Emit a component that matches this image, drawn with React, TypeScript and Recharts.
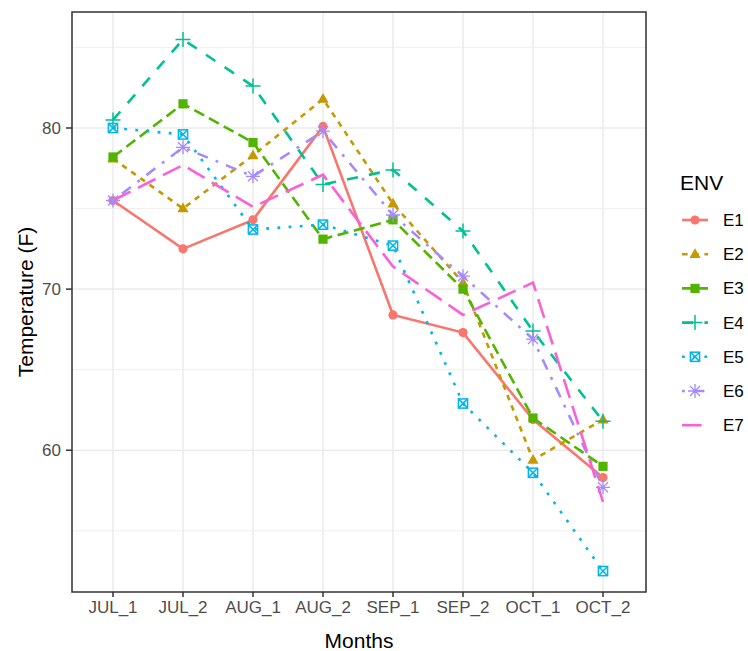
import React from "react";
import { LineChart, Line, XAxis, YAxis, CartesianGrid, usePlotArea } from "recharts";

const months = ["JUL_1", "JUL_2", "AUG_1", "AUG_2", "SEP_1", "SEP_2", "OCT_1", "OCT_2"];

const e1 = [75.5, 72.5, 74.3, 80.1, 68.4, 67.3, 61.9, 58.3];
const e2 = [78.1, 75.0, 78.3, 81.8, 75.3, 70.4, 59.4, 61.9];
const e3 = [78.2, 81.5, 79.1, 73.1, 74.3, 70.0, 62.0, 59.0];
const e4 = [80.5, 85.5, 82.6, 76.5, 77.4, 73.6, 67.4, 61.8];
const e5 = [80.0, 79.6, 73.7, 74.0, 72.7, 62.9, 58.6, 52.5];
const e6 = [75.5, 78.8, 77.0, 79.8, 74.6, 70.8, 66.9, 57.7];
const e7 = [75.5, 77.7, 75.1, 77.1, 71.4, 68.4, 70.4, 56.8];

const majorTicks = [60, 70, 80];
const minorTicks = [55, 65, 75, 85];

const envValues: Record<string, number[]> = { E1: e1, E2: e2, E3: e3, E4: e4, E5: e5, E6: e6, E7: e7 };

const data = months.map((month, i) => {
	const row: Record<string, string | number> = { month };
	Object.keys(envValues).forEach((k) => {
		row[k] = envValues[k][i];
	});
	return row;
});

// ggplot-like hue palette, linetypes and point shapes
const U = 2.8;
const series = [
	{ key: "E1", color: "#F8766D", dash: undefined, shape: "circle" },
	{ key: "E2", color: "#C49A00", dash: `${2 * U} ${2 * U}`, shape: "triangle" },
	{ key: "E3", color: "#53B400", dash: `${4 * U} ${2 * U}`, shape: "square" },
	{ key: "E4", color: "#00C094", dash: `${4 * U} ${4 * U}`, shape: "plus" },
	{ key: "E5", color: "#00B6EB", dash: `${1 * U} ${3 * U}`, shape: "boxX" },
	{ key: "E6", color: "#A58AFF", dash: `${1 * U} ${3 * U} ${4 * U} ${3 * U}`, shape: "asterisk" },
	{ key: "E7", color: "#FB61D7", dash: `${7 * U} ${3 * U}`, shape: "none" },
];

const FONT = "'Liberation Sans', Arial, sans-serif";

function Marker({ shape, cx, cy, color }: { shape: string; cx: number; cy: number; color: string }) {
	if (cx == null || cy == null) return <g />;
	switch (shape) {
		case "circle":
			return <circle cx={cx} cy={cy} r={4.6} fill={color} />;
		case "triangle":
			return <polygon points={`${cx},${cy - 6} ${cx + 5.6},${cy + 3.8} ${cx - 5.6},${cy + 3.8}`} fill={color} />;
		case "square":
			return <rect x={cx - 4.6} y={cy - 4.6} width={9.2} height={9.2} fill={color} />;
		case "plus":
			return (
				<path d={`M${cx - 7.5},${cy}H${cx + 7.5}M${cx},${cy - 7.5}V${cy + 7.5}`} stroke={color} strokeWidth={1.5} fill="none" />
			);
		case "boxX":
			return (
				<g stroke={color} strokeWidth={1.5} fill="none">
					<rect x={cx - 4.6} y={cy - 4.6} width={9.2} height={9.2} />
					<path d={`M${cx - 4.6},${cy - 4.6}L${cx + 4.6},${cy + 4.6}M${cx + 4.6},${cy - 4.6}L${cx - 4.6},${cy + 4.6}`} />
				</g>
			);
		case "asterisk":
			return (
				<path
					d={`M${cx - 7},${cy}H${cx + 7}M${cx},${cy - 7}V${cy + 7}M${cx - 5},${cy - 5}L${cx + 5},${cy + 5}M${cx + 5},${cy - 5}L${cx - 5},${cy + 5}`}
					stroke={color}
					strokeWidth={1.3}
					fill="none"
				/>
			);
		default:
			return <g />;
	}
}

// panel border drawn around the whole plotting area
function PanelBorder() {
	const area = usePlotArea();
	if (!area) return null;
	return <rect x={area.x} y={area.y} width={area.width} height={area.height} fill="none" stroke="#333333" strokeWidth={1.5} />;
}

function EnvLegend() {
	return (
		<svg width={748} height={651} style={{ position: "absolute", left: 0, top: 0, pointerEvents: "none" }}>
			<text x={680} y={190} fontSize={21} fontFamily={FONT} fill="#000">
				ENV
			</text>
			{series.map((s, i) => {
				const y = 220 + i * 34.2;
				return (
					<g key={s.key}>
						<line x1={682} x2={708} y1={y} y2={y} stroke={s.color} strokeWidth={2.6} strokeDasharray={s.dash} />
						<Marker shape={s.shape} cx={695} cy={y} color={s.color} />
						<text x={723} y={y + 6} fontSize={17} fontFamily={FONT} fill="#000">
							{s.key}
						</text>
					</g>
				);
			})}
		</svg>
	);
}

export default function App() {
	return (
		<div style={{ position: "absolute", left: 0, top: 0, width: 748, height: 651, background: "#fff" }}>
			<LineChart
				width={748}
				height={651}
				data={data}
				margin={{ top: 12, right: 102, bottom: 0, left: 0 }}
				style={{ fontFamily: FONT }}
			>
				<CartesianGrid vertical={false} horizontalValues={minorTicks} stroke="#EBEBEB" strokeWidth={0.8} />
				<CartesianGrid horizontalValues={majorTicks} stroke="#EBEBEB" strokeWidth={1.5} />
				<XAxis
					dataKey="month"
					height={59}
					padding={{ left: 41, right: 43 }}
					interval={0}
					axisLine={false}
					tickSize={5}
					tickMargin={4}
					tickLine={{ stroke: "#333333", strokeWidth: 1.5 }}
					tick={{ fill: "#4D4D4D", fontSize: 17 }}
					label={({ viewBox }: any) => (
						<text
							x={viewBox.x + viewBox.width / 2}
							y={viewBox.y + viewBox.height - 3}
							textAnchor="middle"
							fontSize={21}
							fill="#000"
						>
							Months
						</text>
					)}
				/>
				<YAxis
					type="number"
					width={72}
					domain={[51.2, 87.2]}
					ticks={majorTicks}
					allowDataOverflow
					axisLine={false}
					tickSize={6}
					tickMargin={5}
					tickLine={{ stroke: "#333333", strokeWidth: 1.5 }}
					tick={{ fill: "#4D4D4D", fontSize: 17 }}
					label={({ viewBox }: any) => (
						<text
							x={25}
							y={viewBox.y + viewBox.height / 2}
							textAnchor="middle"
							dominantBaseline="central"
							fontSize={21}
							fill="#000"
							transform={`rotate(-90, 25, ${viewBox.y + viewBox.height / 2})`}
						>
							Temperature (F)
						</text>
					)}
				/>
				{series.map((s) => (
					<Line
						key={s.key}
						dataKey={s.key}
						stroke={s.color}
						strokeWidth={2.6}
						strokeDasharray={s.dash}
						type="linear"
						isAnimationActive={false}
						dot={(p: any) => <Marker key={`${s.key}-${p.index}`} shape={s.shape} cx={p.cx} cy={p.cy} color={s.color} />}
						activeDot={false}
					/>
				))}
				<PanelBorder />
			</LineChart>
			<EnvLegend />
		</div>
	);
}
